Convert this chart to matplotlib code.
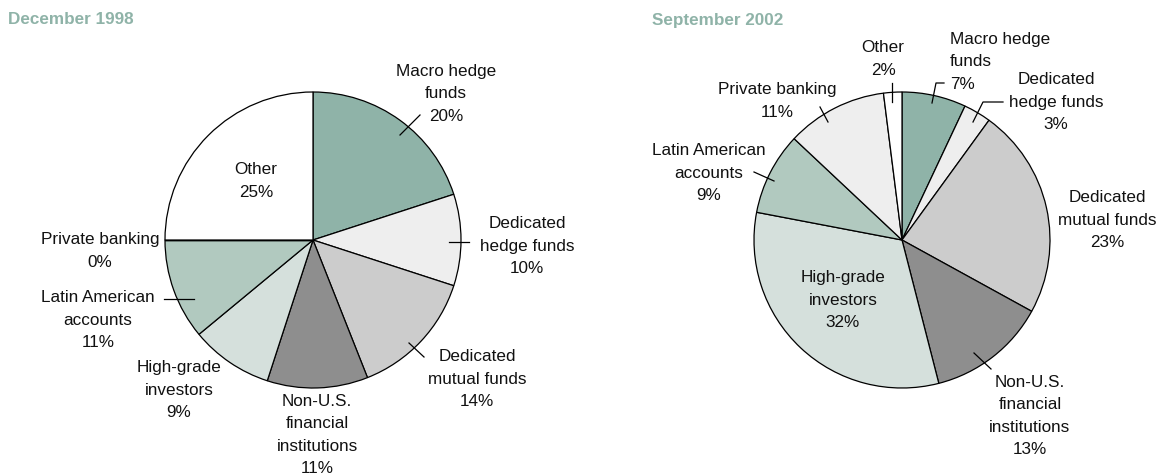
import matplotlib
matplotlib.use("Agg")
import matplotlib.pyplot as plt

# investor base shares, clockwise from 12 o'clock
categories = ["Macro hedge\nfunds", "Dedicated\nhedge funds", "Dedicated\nmutual funds",
              "Non-U.S.\nfinancial\ninstitutions", "High-grade\ninvestors",
              "Latin American\naccounts", "Private banking", "Other"]
shares_1998 = [20, 10, 14, 11, 9, 11, 0, 25]
shares_2002 = [7, 3, 23, 13, 32, 9, 11, 2]
titles = ["December 1998", "September 2002"]

colors = ["#8fb3a8", "#eeeeee", "#cccccc", "#8e8e8e", "#d5e0dc", "#b1c9bf", "#eeeeee", "#ffffff"]
title_color = "#8fb3a8"

plt.rcParams["font.family"] = ["Liberation Sans", "DejaVu Sans"]
FS = 12.3
LS = 1.6

W, H = 1158, 473
fig = plt.figure(figsize=(W / 100, H / 100), dpi=100)
ax = fig.add_axes([0, 0, 1, 1])

R = 148
pies = [
    dict(values=shares_1998, center=(313, 240), title_x=8,
         labels=[(446, 94, "center"), (527, 246, "center"), (477, 379, "center"),
                 (317, 435, "center"), (179, 390, "center"), (98, 320, "center"),
                 (100, 251, "center"), (256, 181, "center")],
         leaders=[[(400, 135), (420, 115)], [(449, 242), (469, 242)],
                  [(409, 343), (424, 357)], None, None,
                  [(164, 299), (194, 299)], None, None]),
    dict(values=shares_2002, center=(902, 240), title_x=652,
         labels=[(950, 62, "left"), (1056, 102, "center"), (1107, 220, "center"),
                 (1030, 416, "center"), (843, 300, "center"), (709, 173, "center"),
                 (777, 101, "center"), (883, 59, "center")],
         leaders=[[(932, 103), (936, 83), (944, 83)],
                  [(973, 122), (983, 102), (1003, 102)], None,
                  [(974, 353), (991, 369)], None,
                  [(774, 181), (754, 172)], [(828, 122), (820, 107)],
                  [(892, 102), (892, 83)]]),
]

for p, title in zip(pies, titles):
    # y axis is flipped below, so counterclock in data runs clockwise on screen
    wedges, _ = ax.pie(p["values"], colors=colors, startangle=-90, counterclock=True,
                       center=p["center"], radius=R, frame=True,
                       wedgeprops=dict(edgecolor="black", linewidth=0.9))
    for w, v in zip(wedges, p["values"]):
        if v == 0:
            w.set_linewidth(2.0)
    for name, v, (x, y, ha), lead in zip(categories, p["values"], p["labels"], p["leaders"]):
        ax.text(x, y, f"{name}\n{v}%", ha=ha, va="center", multialignment=ha,
                fontsize=FS, linespacing=LS, color="#111111")
        if lead:
            xs, ys = zip(*lead)
            ax.plot(xs, ys, color="black", lw=0.9)
    ax.text(p["title_x"], 20, title, ha="left", va="center", fontsize=FS,
            fontweight="bold", color=title_color)

# pixel units, y pointing down
ax.set_xlim(0, W)
ax.set_ylim(H, 0)
ax.axis("off")
fig.savefig("out.png", dpi=100)
